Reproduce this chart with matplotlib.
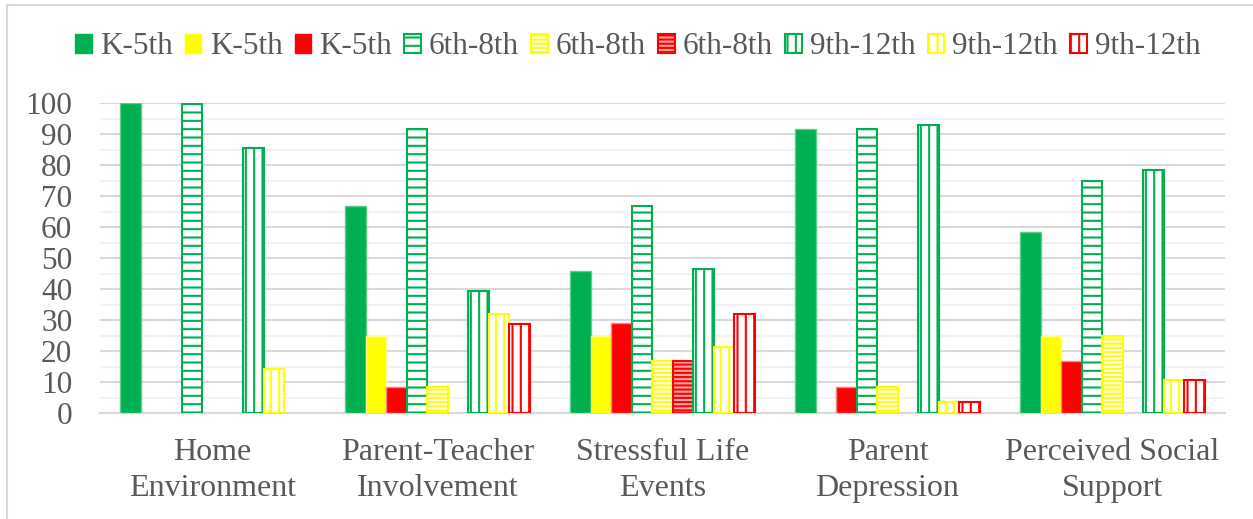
import matplotlib
matplotlib.use("Agg")
import matplotlib.pyplot as plt
import numpy as np
from matplotlib.patches import Rectangle, Patch

categories = ["Home\nEnvironment", "Parent-Teacher\nInvolvement", "Stressful Life\nEvents",
              "Parent\nDepression", "Perceived Social\nSupport"]

series_labels = ["K-5th", "K-5th", "K-5th", "6th-8th", "6th-8th", "6th-8th",
                 "9th-12th", "9th-12th", "9th-12th"]

k5_green = [100, 66.7, 45.8, 91.7, 58.3]
k5_yellow = [0, 25, 25, 0, 25]
k5_red = [0, 8.3, 29.2, 8.3, 16.7]
m68_green = [100, 91.7, 66.7, 91.7, 75]
m68_yellow = [0, 8.3, 16.7, 8.3, 25]
m68_red = [0, 0, 16.7, 0, 0]
h912_green = [85.7, 39.3, 46.4, 93.1, 78.6]
h912_yellow = [14.3, 32.1, 21.4, 3.4, 10.7]
h912_red = [0, 28.6, 32.1, 3.4, 10.7]

series_values = [k5_green, k5_yellow, k5_red, m68_green, m68_yellow, m68_red,
                 h912_green, h912_yellow, h912_red]

GREEN, YELLOW, RED = "#00B050", "#FFFF00", "#FF0000"
TEXT = "#595959"

# (face, edge, hatch) per series
styles = [
    (GREEN, "#5CCB8E", None),
    (YELLOW, "#FFFF80", None),
    (RED, "#FF8080", None),
    ("white", GREEN, "--"),
    ("white", YELLOW, "----"),
    ("#FFA6A6", RED, "----"),
    ("white", GREEN, "||"),
    ("white", YELLOW, "||"),
    ("white", RED, "||"),
]

plt.rcParams["font.family"] = ["Liberation Serif", "DejaVu Serif"]
plt.rcParams["hatch.linewidth"] = 1.5

fig = plt.figure(figsize=(12.53, 5.19), dpi=100)
ax = fig.add_axes([100 / 1253, 1 - 413 / 519, 1125 / 1253, (413 - 103.3) / 519])

x = np.arange(len(categories))
n = len(series_values)
bw = 0.0911
handles = []
for i, (vals, (face, edge, hatch)) in enumerate(zip(series_values, styles)):
    offs = (i - (n - 1) / 2) * bw
    lw = 1.0 if hatch is None else 1.5
    bars = ax.bar(x + offs, vals, width=bw, color=face, edgecolor=edge,
                  hatch=hatch, linewidth=lw, zorder=3)
    # empty cells draw nothing
    for rect, v in zip(bars.patches, vals):
        if v == 0:
            rect.set_visible(False)
    handles.append(Patch(facecolor=face, edgecolor=edge if hatch else face,
                         hatch=hatch, linewidth=lw, label=series_labels[i]))

ax.set_xlim(-0.5, len(categories) - 0.5)
ax.set_ylim(0, 100)
ax.set_yticks(np.arange(0, 101, 10))
ax.set_yticks(np.arange(5, 100, 10), minor=True)
ax.grid(axis="y", which="major", color="#D9D9D9", linewidth=1.5, zorder=0)
ax.grid(axis="y", which="minor", color="#F2F2F2", linewidth=1.5, zorder=0)
ax.set_xticks(x)
ax.set_xticklabels(categories, fontsize=23, color=TEXT, linespacing=1.3)
ax.tick_params(axis="x", length=0, pad=18)
ax.tick_params(axis="y", which="both", length=0, pad=20, labelsize=22.5, labelcolor=TEXT)
for side in ["left", "right", "top"]:
    ax.spines[side].set_visible(False)
ax.spines["bottom"].set_color("#D9D9D9")
ax.spines["bottom"].set_linewidth(1.5)

fig.legend(handles=handles, labels=series_labels, loc="center",
           bbox_to_anchor=(638 / 1253, 1 - 47 / 519), ncol=9, frameon=False,
           fontsize=22.5, labelcolor=TEXT, handlelength=0.52, handleheight=0.52,
           handletextpad=0.27, columnspacing=0.39, borderpad=0)

fig.patches.append(Rectangle((7 / 1253, -0.05), 1.2, 1 - 5 / 519 + 0.05,
                             transform=fig.transFigure, fill=False,
                             edgecolor="#D9D9D9", linewidth=1.5))

fig.savefig("out.png", dpi=100)
